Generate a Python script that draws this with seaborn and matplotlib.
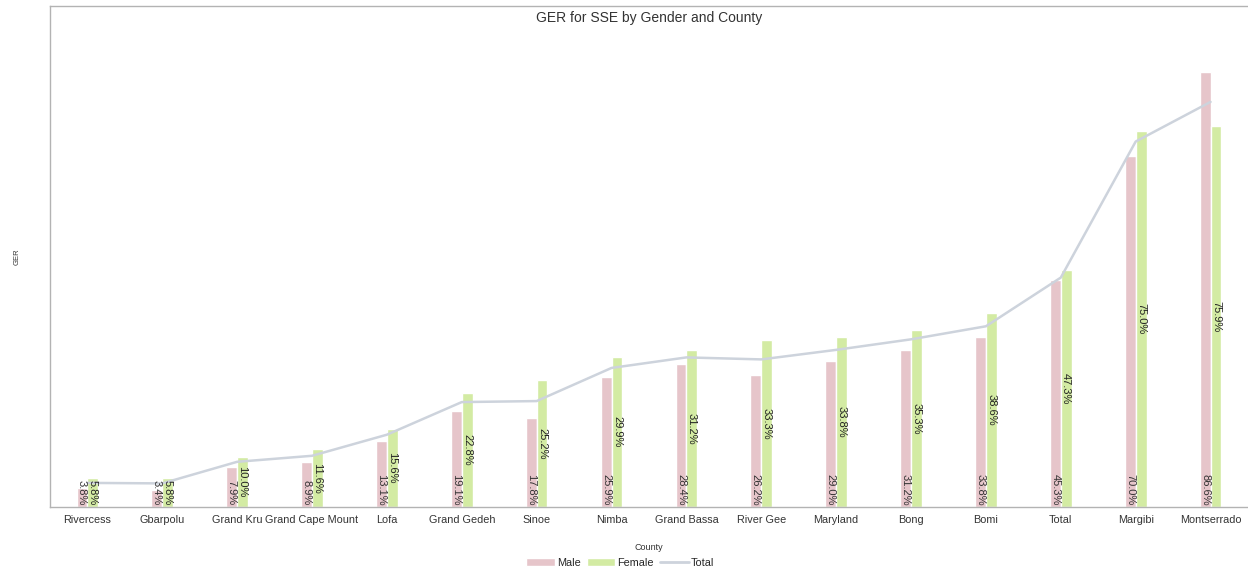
import pandas as pd
import numpy as np
import matplotlib
matplotlib.use("Agg")
import matplotlib.pyplot as plt
import seaborn as sns
from matplotlib.patches import Patch
from matplotlib.lines import Line2D

counties = ["Rivercess", "Gbarpolu", "Grand Kru", "Grand Cape Mount", "Lofa",
            "Grand Gedeh", "Sinoe", "Nimba", "Grand Bassa", "River Gee",
            "Maryland", "Bong", "Bomi", "Total", "Margibi", "Montserrado"]
male = [3.8, 3.4, 7.9, 8.9, 13.1, 19.1, 17.8, 25.9, 28.4, 26.2, 29.0, 31.2, 33.8, 45.3, 70.0, 86.6]
female = [5.8, 5.8, 10.0, 11.6, 15.6, 22.8, 25.2, 29.9, 31.2, 33.3, 33.8, 35.3, 38.6, 47.3, 75.0, 75.9]
total = [4.8, 4.7, 9.0, 10.2, 14.4, 20.9, 21.1, 27.7, 29.8, 29.4, 31.3, 33.4, 36.0, 45.7, 72.8, 80.7]

male_col = "#e6c5ca"
female_col = "#d3eba3"
total_col = "#cdd3dc"

sns.set_style("white")
plt.rcParams["font.family"] = ["Liberation Sans", "DejaVu Sans"]

df = pd.DataFrame({"County": counties * 2,
                   "GER": male + female,
                   "Gender": ["Male"] * len(counties) + ["Female"] * len(counties)})

fig = plt.figure(figsize=(12.48, 5.73), dpi=100)
ax = fig.add_axes([0.04, 0.1152, 0.96, 0.8743])

sns.barplot(data=df, x="County", y="GER", hue="Gender", order=counties,
            palette={"Male": male_col, "Female": female_col},
            width=0.29, saturation=1, ax=ax, legend=False)
sns.lineplot(x=counties, y=total, sort=False, color=total_col, linewidth=1.8, ax=ax)

# value labels
for cont, vals, where in zip(ax.containers, [male, female], ["base", "center"]):
    for bar, v in zip(cont, vals):
        cx = bar.get_x() + bar.get_width() / 2
        if where == "base":
            ax.text(cx, 0.3, f"{v:.1f}%", rotation=270, ha="center", va="bottom",
                    fontsize=8, color="#333333")
        else:
            ax.text(cx, bar.get_height() / 2, f"{v:.1f}%", rotation=270, ha="center",
                    va="center", fontsize=8, color="#222222")

ax.set_xlim(-0.5, len(counties) - 0.5)
ax.set_ylim(0, 99.8)
ax.set_yticks([])
ax.set_title("GER for SSE by Gender and County", fontsize=10, color="#333333", y=0.968, pad=0)
ax.set_xlabel("County", fontsize=6.5, color="#333333", labelpad=13)
ax.set_ylabel("GER", fontsize=5.5, color="#333333", labelpad=21)
ax.tick_params(axis="x", which="major", length=0, labelsize=7.8, labelcolor="#333333", pad=6)
ax.set_xticks(np.arange(-0.5, len(counties)), minor=True)
ax.tick_params(axis="x", which="minor", length=5, color="#b3b3b3", width=1)

for side in ["left", "bottom", "top"]:
    ax.spines[side].set_color("#b3b3b3")
    ax.spines[side].set_linewidth(1)
ax.spines["right"].set_visible(False)

handles = [Patch(facecolor=male_col, label="Male"),
           Patch(facecolor=female_col, label="Female"),
           Line2D([0], [0], color=total_col, linewidth=2, label="Total")]
fig.legend(handles=handles, loc="lower center", bbox_to_anchor=(0.497, -0.008), ncol=3,
           frameon=False, fontsize=7.8, handlelength=2.6, handletextpad=0.2, columnspacing=0.6)

fig.savefig("out.png", dpi=100)
